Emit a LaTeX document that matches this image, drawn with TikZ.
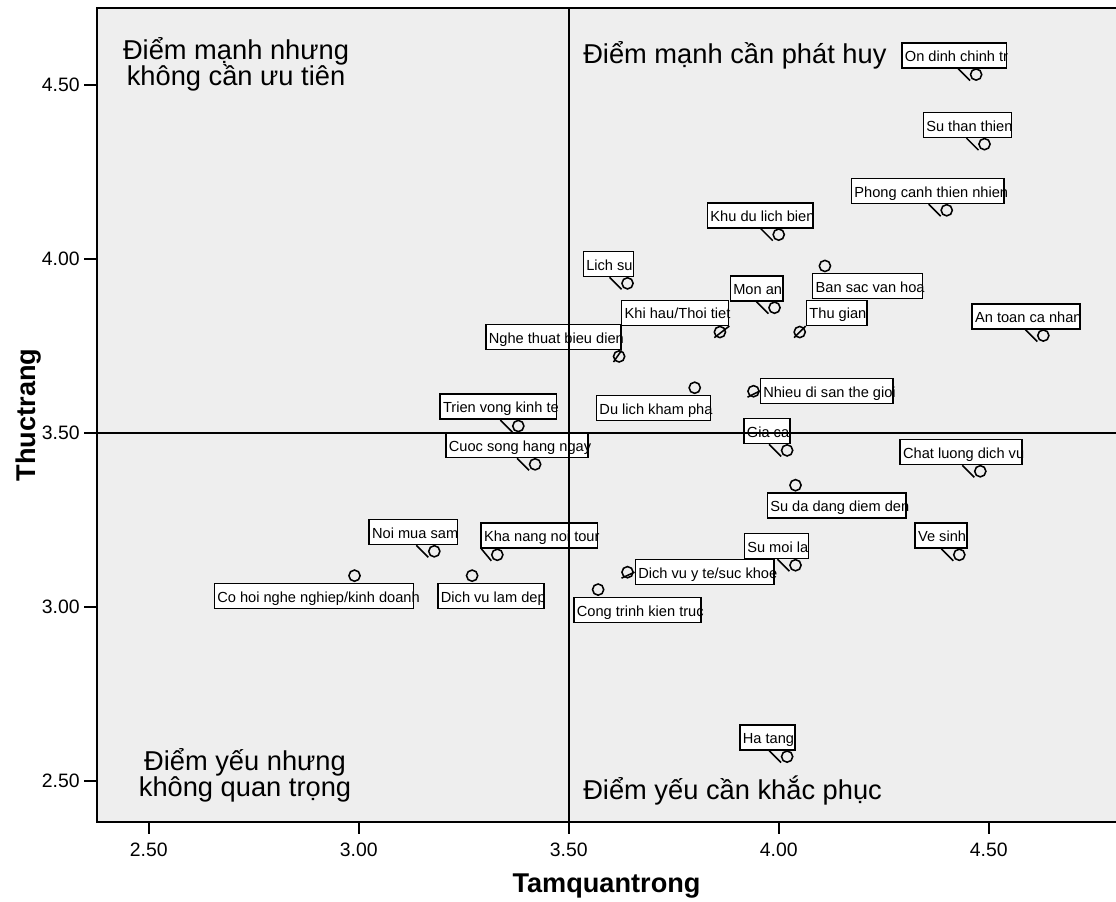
\documentclass[tikz,border=0pt]{standalone}
\usepackage{fontspec}
\setmainfont{Liberation Sans}
\usetikzlibrary{calc}
\definecolor{plotbg}{HTML}{EEEEEE}
\newcommand{\lab}[1]{\makebox[0.955\width][l]{#1}}

\begin{document}
\begin{tikzpicture}[x=10.5cm, y=8.7cm,
  spot/.style={circle, draw, line width=1.1pt, minimum size=0.28cm, inner sep=0pt},
  lbl/.style={draw, fill=white, line width=1.1pt, inner xsep=0.075cm, inner ysep=0pt, minimum height=0.625cm, text height=10pt, text depth=1.2pt, font=\fontsize{10.4}{12.5}\selectfont},
  callout/.style={line width=1.1pt},
  quad/.style={inner sep=0pt, align=center, font=\fontsize{19.4}{19}\selectfont},
  ttl/.style={inner sep=0pt, font=\bfseries\fontsize{19.3}{23}\selectfont},
  ticklbl/.style={inner sep=0pt, font=\fontsize{13.8}{16}\selectfont}]
\path[use as bounding box, fill=white] (2.14595,2.15230) rectangle (4.80310,4.74425);
\coordinate (tl) at (2.3769,4.7213);
\coordinate (bl) at (2.3769,2.3822);
\coordinate (tr) at (4.8031,4.7213);
\coordinate (br) at (4.8031,2.3822);
\fill[plotbg] (bl) rectangle (tr);

% points
\node[spot] (p1) at (4.47,4.53) {};
\node[spot] (p2) at (4.49,4.33) {};
\node[spot] (p3) at (4.40,4.14) {};
\node[spot] (p4) at (4.00,4.07) {};
\node[spot] (p5) at (3.64,3.93) {};
\node[spot] (p6) at (4.11,3.98) {};
\node[spot] (p7) at (3.99,3.86) {};
\node[spot] (p8) at (3.86,3.79) {};
\node[spot] (p9) at (4.05,3.79) {};
\node[spot] (p10) at (4.63,3.78) {};
\node[spot] (p11) at (3.62,3.72) {};
\node[spot] (p12) at (3.80,3.63) {};
\node[spot] (p13) at (3.94,3.62) {};
\node[spot] (p14) at (3.38,3.52) {};
\node[spot] (p15) at (3.42,3.41) {};
\node[spot] (p16) at (4.02,3.45) {};
\node[spot] (p17) at (4.48,3.39) {};
\node[spot] (p18) at (4.04,3.35) {};
\node[spot] (p19) at (3.18,3.16) {};
\node[spot] (p20) at (3.33,3.15) {};
\node[spot] (p21) at (2.99,3.09) {};
\node[spot] (p22) at (3.27,3.09) {};
\node[spot] (p23) at (3.64,3.10) {};
\node[spot] (p24) at (3.57,3.05) {};
\node[spot] (p25) at (4.04,3.12) {};
\node[spot] (p26) at (4.43,3.15) {};
\node[spot] (p27) at (4.02,2.57) {};

% labels
\node[lbl, anchor=south west] (l1) at ([shift={(-18.75mm,1.5mm)}]p1.center) {\lab{On dinh chinh tr}};
\node[lbl, anchor=south west] (l2) at ([shift={(-15.5mm,1.5mm)}]p2.center) {\lab{Su than thien}};
\node[lbl, anchor=south west] (l3) at ([shift={(-24mm,1.5mm)}]p3.center) {\lab{Phong canh thien nhien}};
\node[lbl, anchor=south west] (l4) at ([shift={(-18mm,1.5mm)}]p4.center) {\lab{Khu du lich bien}};
\node[lbl, anchor=south west] (l5) at ([shift={(-11.25mm,1.5mm)}]p5.center) {\lab{Lich su}};
\node[lbl, anchor=north west] (l6) at ([shift={(-3.25mm,-1.75mm)}]p6.center) {\lab{Ban sac van hoa}};
\node[lbl, anchor=south west] (l7) at ([shift={(-11.25mm,1.5mm)}]p7.center) {\lab{Mon an}};
\node[lbl, anchor=south west] (l8) at ([shift={(-24.75mm,1.5mm)}]p8.center) {\lab{Khi hau/Thoi tiet}};
\node[lbl, anchor=south west] (l9) at ([shift={(1.5mm,1.5mm)}]p9.center) {\lab{Thu gian}};
\node[lbl, anchor=south west] (l10) at ([shift={(-18mm,1.5mm)}]p10.center) {\lab{An toan ca nhan}};
\node[lbl, anchor=south west] (l11) at ([shift={(-33.5mm,1.5mm)}]p11.center) {\lab{Nghe thuat bieu dien}};
\node[lbl, anchor=north west] (l12) at ([shift={(-24.75mm,-1.75mm)}]p12.center) {\lab{Du lich kham pha}};
\node[lbl, anchor=west] (l13) at ([shift={(1.5mm,0mm)}]p13.center) {\lab{Nhieu di san the gioi}};
\node[lbl, anchor=south west] (l14) at ([shift={(-19.75mm,1.5mm)}]p14.center) {\lab{Trien vong kinh te}};
\node[lbl, anchor=south west] (l15) at ([shift={(-22.5mm,1.5mm)}]p15.center) {\lab{Cuoc song hang ngay}};
\node[lbl, anchor=south west] (l16) at ([shift={(-11mm,1.5mm)}]p16.center) {\lab{Gia ca}};
\node[lbl, anchor=south west] (l17) at ([shift={(-20.25mm,1.5mm)}]p17.center) {\lab{Chat luong dich vu}};
\node[lbl, anchor=north west] (l18) at ([shift={(-7.25mm,-1.75mm)}]p18.center) {\lab{Su da dang diem den}};
\node[lbl, anchor=south west] (l19) at ([shift={(-16.5mm,1.5mm)}]p19.center) {\lab{Noi mua sam}};
\node[lbl, anchor=south west] (l20) at ([shift={(-4.25mm,1.5mm)}]p20.center) {\lab{Kha nang noi tour}};
\node[lbl, anchor=north west] (l21) at ([shift={(-35.25mm,-1.75mm)}]p21.center) {\lab{Co hoi nghe nghiep/kinh doanh}};
\node[lbl, anchor=north west] (l22) at ([shift={(-8.75mm,-1.75mm)}]p22.center) {\lab{Dich vu lam dep}};
\node[lbl, anchor=west] (l23) at ([shift={(1.75mm,0mm)}]p23.center) {\lab{Dich vu y te/suc khoe}};
\node[lbl, anchor=north west] (l24) at ([shift={(-6.25mm,-1.75mm)}]p24.center) {\lab{Cong trinh kien truc}};
\node[lbl, anchor=south west] (l25) at ([shift={(-13mm,1.5mm)}]p25.center) {\lab{Su moi la}};
\node[lbl, anchor=south west] (l26) at ([shift={(-11.25mm,1.5mm)}]p26.center) {\lab{Ve sinh}};
\node[lbl, anchor=south west] (l27) at ([shift={(-12mm,1.5mm)}]p27.center) {\lab{Ha tang}};

% callouts
\foreach \i in {1,2,3,4,5,7,10,14,15,16,17,19,25,26,27}
  \draw[callout] ($(p\i |- l\i.south)+(-4.5mm,0)$) -- ($(p\i)+(-1.5mm,-1.5mm)$);
\draw[callout] ($(p20 |- l20.south)+(-4mm,0)$) -- ($(p20)+(-1.5mm,-1.5mm)$);
\draw[callout] (l8.south east) -- ($(p8)+(-1.4mm,-1.4mm)$);
\draw[callout] (l9.south west) -- ($(p9)+(-1.4mm,-1.4mm)$);
\draw[callout] (l11.south east) -- ($(p11)+(-1.4mm,-1.4mm)$);
\draw[callout] (l13.west) -- ($(p13)+(-1.5mm,-1.5mm)$);
\draw[callout] (l23.west) -- ($(p23)+(-1.5mm,-1.5mm)$);

% reference lines
\draw[line width=1.2pt] (3.5,2.3822) -- (3.5,4.7213);
\draw[line width=1.2pt] (2.3769,3.5) -- (4.8031,3.5);

% frame and ticks
\draw[line width=1.4pt] (tr) -- (tl) -- (bl) -- (br);
\foreach \v [count=\i] in {2.50,3.00,3.50,4.00,4.50} {
  \draw[line width=1.4pt] (2.3460,\v) -- (2.3769,\v);
  \node[ticklbl, anchor=east] (yt\i) at (2.3364,\v) {\v};
  \draw[line width=1.4pt] (\v,2.3822) -- (\v,2.3477);
  \node[ticklbl, anchor=base] (xt\i) at (\v,2.2816) {\v};
}

% quadrant texts
\node[quad, anchor=base] (q1) at (2.7079,4.4971) {Điểm mạnh nhưng\\không cần ưu tiên};
\node[quad, anchor=base west] (q2) at (3.534,4.5603) {Điểm mạnh cần phát huy};
\node[quad, anchor=base] (q3) at (2.7293,2.4540) {Điểm yếu nhưng\\không quan trọng};
\node[quad, anchor=base west] (q4) at (3.534,2.4454) {Điểm yếu cần khắc phục};

% axis titles
\node[ttl, anchor=base] (xtitle) at (3.59,2.1782) {Tamquantrong};
\node[ttl, anchor=base, rotate=90] (ytitle) at (2.2293,3.5517) {Thuctrang};
\end{tikzpicture}
\end{document}
